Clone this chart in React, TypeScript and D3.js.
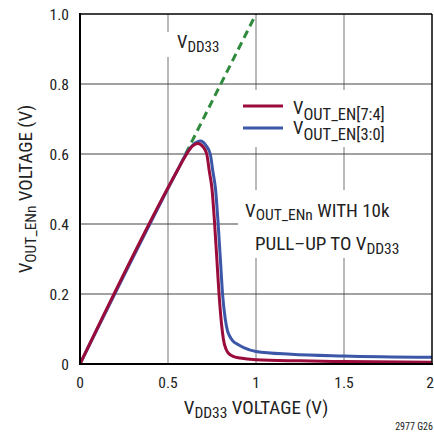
import React from "react";
import * as d3 from "d3";

const xTicks = [0, 0.5, 1, 1.5, 2];
const xTickLabels = ["0", "0.5", "1", "1.5", "2"];
const yTicks = [0, 0.2, 0.4, 0.6, 0.8, 1.0];
const yTickLabels = ["0", "0.2", "0.4", "0.6", "0.8", "1.0"];

const redX = [0, 0.55, 0.6, 0.63, 0.67, 0.7, 0.72, 0.735, 0.75, 0.765, 0.78, 0.79, 0.805, 0.815, 0.83, 0.845, 0.87, 0.91, 1.0, 1.25, 1.5, 2.0];
const redY = [0, 0.55, 0.595, 0.618, 0.63, 0.62, 0.6, 0.55, 0.5, 0.4, 0.28, 0.2, 0.11, 0.07, 0.042, 0.03, 0.022, 0.017, 0.012, 0.009, 0.007, 0.005];
const blueX = [0, 0.55, 0.6, 0.64, 0.685, 0.715, 0.74, 0.755, 0.77, 0.785, 0.8, 0.81, 0.825, 0.837, 0.85, 0.87, 0.9, 0.93, 1.0, 1.2, 1.5, 2.0];
const blueY = [0, 0.55, 0.598, 0.625, 0.637, 0.625, 0.6, 0.55, 0.5, 0.4, 0.28, 0.2, 0.13, 0.097, 0.08, 0.065, 0.055, 0.047, 0.036, 0.028, 0.023, 0.019];
const vddX = [0.6, 1.0];
const vddY = [0.6, 1.0];

const FONT = "'Liberation Sans Narrow', 'Arial Narrow', 'Roboto Condensed', 'Liberation Sans', sans-serif";

export default function App() {
  const x = d3.scaleLinear().domain([0, 2]).range([80, 432]);
  const y = d3.scaleLinear().domain([0, 1]).range([364, 14]);
  const line = d3
    .line<[number, number]>()
    .x((d) => x(d[0]))
    .y((d) => y(d[1]))
    .curve(d3.curveMonotoneX);
  const red = redX.map((v, i) => [v, redY[i]] as [number, number]);
  const blue = blueX.map((v, i) => [v, blueY[i]] as [number, number]);
  const vdd = vddX.map((v, i) => [v, vddY[i]] as [number, number]);
  const redC = "#9a0c3a";
  const blueC = "#3c56a8";
  const greenC = "#2f8a3e";
  const ink = "#222";

  return (
    <svg width={434} height={435} style={{ position: "absolute", left: 0, top: 0, fontFamily: FONT }}>
      <rect width={434} height={435} fill="#fff" />
      <defs>
        <clipPath id="plot">
          <rect x={80} y={14} width={352} height={350} />
        </clipPath>
      </defs>
      {xTicks.slice(1, -1).map((t) => (
        <line key={"gx" + t} x1={x(t)} x2={x(t)} y1={14} y2={364} stroke="#8a8a8a" strokeWidth={1.2} />
      ))}
      {yTicks.slice(1, -1).map((t) => (
        <line key={"gy" + t} x1={80} x2={432} y1={y(t)} y2={y(t)} stroke="#444" strokeWidth={1.2} />
      ))}
      {/* label backgrounds interrupting grid */}
      <rect x={165} y={32} width={60} height={25} fill="#fff" />
      <rect x={240} y={90} width={192} height={57} fill="#fff" />
      <rect x={238} y={190} width={194} height={68} fill="#fff" />

      <g clipPath="url(#plot)">
        <path d={line(vdd) || ""} fill="none" stroke={greenC} strokeWidth={3} strokeDasharray="8,5" />
        <path d={line(blue) || ""} fill="none" stroke={blueC} strokeWidth={3} />
        <path d={line(red) || ""} fill="none" stroke={redC} strokeWidth={3} />
      </g>

      {/* frame */}
      <line x1={80} x2={432} y1={14} y2={14} stroke="#000" strokeWidth={1.5} />
      <line x1={432} x2={432} y1={14} y2={364} stroke="#000" strokeWidth={1.5} />
      <line x1={80} x2={80} y1={13} y2={365} stroke="#000" strokeWidth={2} />
      <line x1={79} x2={433} y1={364} y2={364} stroke="#000" strokeWidth={2} />

      {/* tick labels */}
      {xTicks.map((t, i) => (
        <text
          key={"xl" + t}
          x={i === xTicks.length - 1 ? 434 : x(t)}
          y={388}
          fontSize={15.5}
          textAnchor={i === xTicks.length - 1 ? "end" : "middle"}
          fill={ink}
        >
          {xTickLabels[i]}
        </text>
      ))}
      {yTicks.map((t, i) => (
        <text key={"yl" + t} x={69} y={y(t) + 5.5} fontSize={15.5} textAnchor="end" fill={ink}>
          {yTickLabels[i]}
        </text>
      ))}

      {/* VDD33 label */}
      <text x={177} y={48} fontSize={18.5} fill={ink}>
        V<tspan fontSize={15} dy={4}>DD33</tspan>
      </text>

      {/* legend */}
      <line x1={243} x2={283} y1={106} y2={106} stroke={redC} strokeWidth={3} />
      <line x1={243} x2={283} y1={128} y2={128} stroke={blueC} strokeWidth={3} />
      <text x={293} y={113.5} fontSize={18.5} fill={ink}>
        V<tspan fontSize={16.5} dy={6}>OUT_EN[7:4]</tspan>
      </text>
      <text x={293} y={134} fontSize={18.5} fill={ink}>
        V<tspan fontSize={16.5} dy={6}>OUT_EN[3:0]</tspan>
      </text>

      {/* annotation */}
      <text x={245} y={216.5} fontSize={19} fill={ink}>
        V<tspan fontSize={15.5} dy={3.5}>OUT_ENn</tspan>
        <tspan fontSize={19} dy={-3.5}> WITH 10k</tspan>
      </text>
      <text x={255} y={250} fontSize={19} fill={ink}>
        PULL–UP TO V<tspan fontSize={15.5} dy={3.5}>DD33</tspan>
      </text>

      {/* axis titles */}
      <text x={256} y={414} fontSize={19} textAnchor="middle" fill={ink}>
        V<tspan fontSize={15.5} dy={4}>DD33</tspan>
        <tspan fontSize={19} dy={-4}> VOLTAGE (V)</tspan>
      </text>
      <text transform="translate(32,189) rotate(-90)" fontSize={19} textAnchor="middle" fill={ink}>
        V<tspan fontSize={15.5} dy={4}>OUT_ENn</tspan>
        <tspan fontSize={19} dy={-4}> VOLTAGE (V)</tspan>
      </text>
      <text x={433} y={430} fontSize={10} textAnchor="end" fill={ink}>
        2977 G26
      </text>
    </svg>
  );
}
